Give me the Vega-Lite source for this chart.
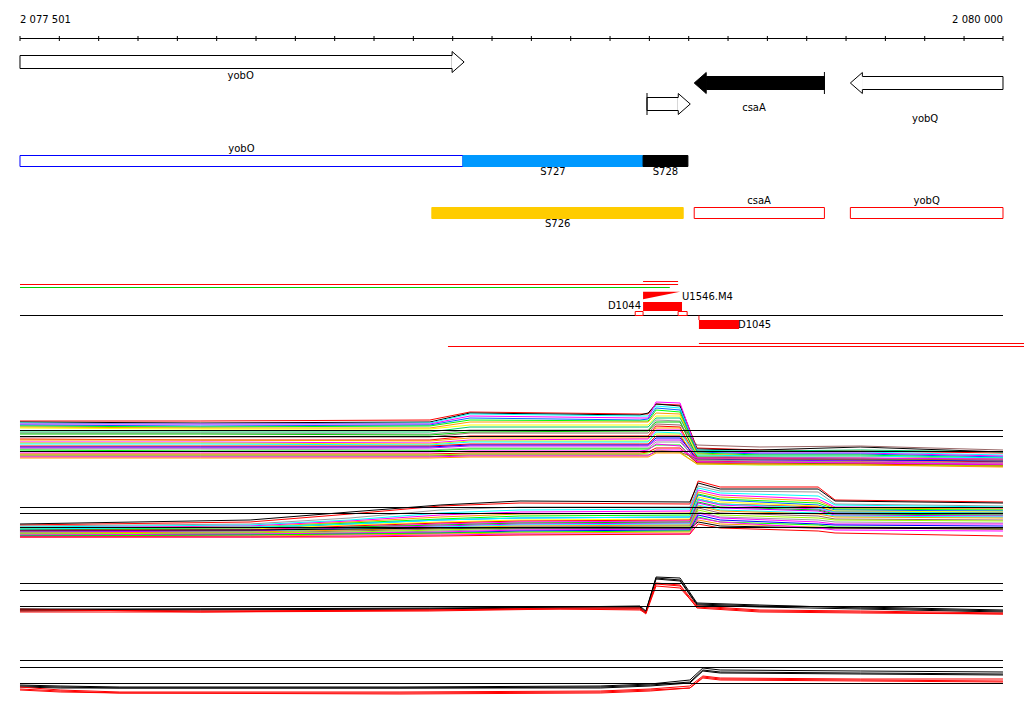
{
"$schema":"https://vega.github.io/schema/vega-lite/v6.json",
"width":1024,"height":714,"padding":0,"autosize":{"type":"none"},"background":"white",
"config":{"view":{"stroke":null},"text":{"font":"DejaVu Sans","fontSize":10,"color":"#000000"}},
"encoding":{"x":{"field":"x","type":"quantitative","scale":{"domain":[2077450.16,2080053.4],"nice":false,"zero":false},"axis":null}},
"resolve":{"scale":{"y":"independent","color":"independent","fill":"independent","stroke":"independent"}},
"datasets":{
"ticks":[{"lane":"ruler","x":2077501},{"lane":"ruler","x":2077601},{"lane":"ruler","x":2077701},{"lane":"ruler","x":2077801},{"lane":"ruler","x":2077901},{"lane":"ruler","x":2078001},{"lane":"ruler","x":2078101},{"lane":"ruler","x":2078201},{"lane":"ruler","x":2078301},{"lane":"ruler","x":2078401},{"lane":"ruler","x":2078501},{"lane":"ruler","x":2078601},{"lane":"ruler","x":2078701},{"lane":"ruler","x":2078801},{"lane":"ruler","x":2078901},{"lane":"ruler","x":2079001},{"lane":"ruler","x":2079101},{"lane":"ruler","x":2079201},{"lane":"ruler","x":2079301},{"lane":"ruler","x":2079401},{"lane":"ruler","x":2079501},{"lane":"ruler","x":2079601},{"lane":"ruler","x":2079701},{"lane":"ruler","x":2079801},{"lane":"ruler","x":2079901},{"lane":"ruler","x":2080000}],
"genes":[
{"lane":"r1","gene":"yobO","x":2077501,"x2":2078630,"strand":"+","focus":"no","lx":2078062},
{"lane":"r2","gene":"csaA","x":2079215,"x2":2079546,"strand":"-","focus":"yes","lx":2079367},
{"lane":"r2","gene":"yobQ","x":2079612,"x2":2080000,"strand":"-","focus":"no","lx":2079802},
{"lane":"r3","gene":"","x":2079095,"x2":2079205,"strand":"+","focus":"no","lx":2079150}],
"segs":[
{"lane":"s1","name":"yobO","type":"orfA","x":2077501,"x2":2078627,"lx":2078064},
{"lane":"s1","name":"S727","type":"S727","x":2078627,"x2":2079085,"lx":2078856},
{"lane":"s1","name":"S728","type":"S728","x":2079085,"x2":2079199,"lx":2079142},
{"lane":"s2","name":"S726","type":"S726","x":2078548,"x2":2079187,"lx":2078868},
{"lane":"s2","name":"csaA","type":"orfB","x":2079215,"x2":2079546,"lx":2079380},
{"lane":"s2","name":"yobQ","type":"orfB","x":2079612,"x2":2080000,"lx":2079806}],
"p1":[
{"s":"c01","x":2077501,"v":5.9},{"s":"c01","x":2077959,"v":5.9},{"s":"c01","x":2078543,"v":6.0},{"s":"c01","x":2078645,"v":6.8},{"s":"c01","x":2079077,"v":6.6},{"s":"c01","x":2079098,"v":6.6},{"s":"c01","x":2079118,"v":7.6},{"s":"c01","x":2079179,"v":7.5},{"s":"c01","x":2079222,"v":3.2},{"s":"c01","x":2079382,"v":3.0},{"s":"c01","x":2079637,"v":2.9},{"s":"c01","x":2080000,"v":2.7},
{"s":"c02","x":2077501,"v":5.8},{"s":"c02","x":2077959,"v":5.7},{"s":"c02","x":2078543,"v":5.8},{"s":"c02","x":2078645,"v":6.7},{"s":"c02","x":2079077,"v":6.5},{"s":"c02","x":2079098,"v":6.7},{"s":"c02","x":2079118,"v":7.6},{"s":"c02","x":2079179,"v":7.4},{"s":"c02","x":2079222,"v":3.1},{"s":"c02","x":2079382,"v":3.0},{"s":"c02","x":2079637,"v":3.3},{"s":"c02","x":2080000,"v":2.8},
{"s":"c03","x":2077501,"v":5.7},{"s":"c03","x":2077959,"v":5.6},{"s":"c03","x":2078543,"v":5.7},{"s":"c03","x":2078645,"v":6.6},{"s":"c03","x":2079077,"v":6.4},{"s":"c03","x":2079098,"v":6.4},{"s":"c03","x":2079118,"v":7.4},{"s":"c03","x":2079179,"v":7.2},{"s":"c03","x":2079222,"v":3.0},{"s":"c03","x":2079382,"v":2.8},{"s":"c03","x":2079637,"v":2.8},{"s":"c03","x":2080000,"v":2.5},
{"s":"c04","x":2077501,"v":5.6},{"s":"c04","x":2077959,"v":5.6},{"s":"c04","x":2078543,"v":5.6},{"s":"c04","x":2078645,"v":6.4},{"s":"c04","x":2079077,"v":6.2},{"s":"c04","x":2079098,"v":6.2},{"s":"c04","x":2079118,"v":7.8},{"s":"c04","x":2079179,"v":7.7},{"s":"c04","x":2079222,"v":2.9},{"s":"c04","x":2079382,"v":2.7},{"s":"c04","x":2079637,"v":2.7},{"s":"c04","x":2080000,"v":2.4},
{"s":"c05","x":2077501,"v":5.5},{"s":"c05","x":2077959,"v":5.4},{"s":"c05","x":2078543,"v":5.5},{"s":"c05","x":2078645,"v":6.2},{"s":"c05","x":2079077,"v":6.0},{"s":"c05","x":2079098,"v":6.1},{"s":"c05","x":2079118,"v":7.2},{"s":"c05","x":2079179,"v":7.0},{"s":"c05","x":2079222,"v":2.8},{"s":"c05","x":2079382,"v":2.6},{"s":"c05","x":2079637,"v":2.6},{"s":"c05","x":2080000,"v":2.3},
{"s":"c06","x":2077501,"v":5.4},{"s":"c06","x":2077959,"v":5.3},{"s":"c06","x":2078543,"v":5.4},{"s":"c06","x":2078645,"v":6.0},{"s":"c06","x":2079077,"v":5.9},{"s":"c06","x":2079098,"v":5.9},{"s":"c06","x":2079118,"v":7.0},{"s":"c06","x":2079179,"v":6.8},{"s":"c06","x":2079222,"v":2.7},{"s":"c06","x":2079382,"v":2.5},{"s":"c06","x":2079637,"v":2.5},{"s":"c06","x":2080000,"v":2.2},
{"s":"c07","x":2077501,"v":5.3},{"s":"c07","x":2077959,"v":5.2},{"s":"c07","x":2078543,"v":5.2},{"s":"c07","x":2078645,"v":5.8},{"s":"c07","x":2079077,"v":5.8},{"s":"c07","x":2079098,"v":5.8},{"s":"c07","x":2079118,"v":6.7},{"s":"c07","x":2079179,"v":6.6},{"s":"c07","x":2079222,"v":2.6},{"s":"c07","x":2079382,"v":2.4},{"s":"c07","x":2079637,"v":2.4},{"s":"c07","x":2080000,"v":2.1},
{"s":"c08","x":2077501,"v":5.2},{"s":"c08","x":2077959,"v":5.1},{"s":"c08","x":2078543,"v":5.1},{"s":"c08","x":2078645,"v":5.5},{"s":"c08","x":2079077,"v":5.5},{"s":"c08","x":2079098,"v":5.5},{"s":"c08","x":2079118,"v":6.4},{"s":"c08","x":2079179,"v":6.4},{"s":"c08","x":2079222,"v":2.5},{"s":"c08","x":2079382,"v":2.3},{"s":"c08","x":2079637,"v":2.2},{"s":"c08","x":2080000,"v":2.0},
{"s":"c09","x":2077501,"v":4.8},{"s":"c09","x":2077959,"v":4.8},{"s":"c09","x":2078543,"v":4.8},{"s":"c09","x":2078645,"v":5.3},{"s":"c09","x":2079077,"v":5.3},{"s":"c09","x":2079098,"v":5.3},{"s":"c09","x":2079118,"v":6.2},{"s":"c09","x":2079179,"v":6.2},{"s":"c09","x":2079222,"v":2.9},{"s":"c09","x":2079382,"v":2.9},{"s":"c09","x":2079637,"v":3.0},{"s":"c09","x":2080000,"v":2.8},
{"s":"c10","x":2077501,"v":4.7},{"s":"c10","x":2077959,"v":4.7},{"s":"c10","x":2078543,"v":4.6},{"s":"c10","x":2078645,"v":5.0},{"s":"c10","x":2079077,"v":5.0},{"s":"c10","x":2079098,"v":5.0},{"s":"c10","x":2079118,"v":6.0},{"s":"c10","x":2079179,"v":5.9},{"s":"c10","x":2079222,"v":2.4},{"s":"c10","x":2079382,"v":2.3},{"s":"c10","x":2079637,"v":2.2},{"s":"c10","x":2080000,"v":2.0},
{"s":"c11","x":2077501,"v":4.6},{"s":"c11","x":2077959,"v":4.6},{"s":"c11","x":2078543,"v":4.5},{"s":"c11","x":2078645,"v":4.8},{"s":"c11","x":2079077,"v":4.9},{"s":"c11","x":2079098,"v":4.9},{"s":"c11","x":2079118,"v":5.8},{"s":"c11","x":2079179,"v":5.8},{"s":"c11","x":2079222,"v":2.3},{"s":"c11","x":2079382,"v":2.2},{"s":"c11","x":2079637,"v":2.1},{"s":"c11","x":2080000,"v":1.8},
{"s":"c12","x":2077501,"v":4.3},{"s":"c12","x":2077959,"v":4.3},{"s":"c12","x":2078543,"v":4.3},{"s":"c12","x":2078645,"v":4.7},{"s":"c12","x":2079077,"v":4.7},{"s":"c12","x":2079098,"v":4.7},{"s":"c12","x":2079118,"v":5.6},{"s":"c12","x":2079179,"v":5.5},{"s":"c12","x":2079222,"v":3.5},{"s":"c12","x":2079382,"v":3.3},{"s":"c12","x":2079637,"v":3.4},{"s":"c12","x":2080000,"v":3.0},
{"s":"c13","x":2077501,"v":4.1},{"s":"c13","x":2077959,"v":4.0},{"s":"c13","x":2078543,"v":4.0},{"s":"c13","x":2078645,"v":4.4},{"s":"c13","x":2079077,"v":4.4},{"s":"c13","x":2079098,"v":4.4},{"s":"c13","x":2079118,"v":5.4},{"s":"c13","x":2079179,"v":5.3},{"s":"c13","x":2079222,"v":2.2},{"s":"c13","x":2079382,"v":2.2},{"s":"c13","x":2079637,"v":2.0},{"s":"c13","x":2080000,"v":1.8},
{"s":"c14","x":2077501,"v":4.0},{"s":"c14","x":2077959,"v":4.0},{"s":"c14","x":2078543,"v":3.9},{"s":"c14","x":2078645,"v":4.2},{"s":"c14","x":2079077,"v":4.2},{"s":"c14","x":2079098,"v":4.2},{"s":"c14","x":2079118,"v":5.2},{"s":"c14","x":2079179,"v":5.2},{"s":"c14","x":2079222,"v":2.1},{"s":"c14","x":2079382,"v":2.1},{"s":"c14","x":2079637,"v":2.0},{"s":"c14","x":2080000,"v":1.7},
{"s":"c15","x":2077501,"v":3.8},{"s":"c15","x":2077959,"v":3.8},{"s":"c15","x":2078543,"v":3.7},{"s":"c15","x":2078645,"v":4.0},{"s":"c15","x":2079077,"v":4.1},{"s":"c15","x":2079098,"v":4.1},{"s":"c15","x":2079118,"v":5.0},{"s":"c15","x":2079179,"v":5.0},{"s":"c15","x":2079222,"v":2.0},{"s":"c15","x":2079382,"v":2.0},{"s":"c15","x":2079637,"v":1.9},{"s":"c15","x":2080000,"v":1.7},
{"s":"c16","x":2077501,"v":3.7},{"s":"c16","x":2077959,"v":3.7},{"s":"c16","x":2078543,"v":3.6},{"s":"c16","x":2078645,"v":3.9},{"s":"c16","x":2079077,"v":3.9},{"s":"c16","x":2079098,"v":3.9},{"s":"c16","x":2079118,"v":4.6},{"s":"c16","x":2079179,"v":4.6},{"s":"c16","x":2079222,"v":1.9},{"s":"c16","x":2079382,"v":1.9},{"s":"c16","x":2079637,"v":1.8},{"s":"c16","x":2080000,"v":1.6},
{"s":"c17","x":2077501,"v":3.6},{"s":"c17","x":2077959,"v":3.6},{"s":"c17","x":2078543,"v":3.5},{"s":"c17","x":2078645,"v":3.8},{"s":"c17","x":2079077,"v":3.8},{"s":"c17","x":2079098,"v":3.8},{"s":"c17","x":2079118,"v":4.8},{"s":"c17","x":2079179,"v":4.7},{"s":"c17","x":2079222,"v":2.5},{"s":"c17","x":2079382,"v":2.4},{"s":"c17","x":2079637,"v":2.4},{"s":"c17","x":2080000,"v":2.2},
{"s":"c18","x":2077501,"v":3.4},{"s":"c18","x":2077959,"v":3.4},{"s":"c18","x":2078543,"v":3.4},{"s":"c18","x":2078645,"v":3.6},{"s":"c18","x":2079077,"v":3.6},{"s":"c18","x":2079098,"v":3.6},{"s":"c18","x":2079118,"v":4.4},{"s":"c18","x":2079179,"v":4.4},{"s":"c18","x":2079222,"v":1.9},{"s":"c18","x":2079382,"v":1.8},{"s":"c18","x":2079637,"v":1.8},{"s":"c18","x":2080000,"v":1.5},
{"s":"c19","x":2077501,"v":3.3},{"s":"c19","x":2077959,"v":3.3},{"s":"c19","x":2078543,"v":3.3},{"s":"c19","x":2078645,"v":3.5},{"s":"c19","x":2079077,"v":3.5},{"s":"c19","x":2079098,"v":3.5},{"s":"c19","x":2079118,"v":4.2},{"s":"c19","x":2079179,"v":4.2},{"s":"c19","x":2079222,"v":2.1},{"s":"c19","x":2079382,"v":2.0},{"s":"c19","x":2079637,"v":2.0},{"s":"c19","x":2080000,"v":1.9},
{"s":"c20","x":2077501,"v":3.2},{"s":"c20","x":2077959,"v":3.2},{"s":"c20","x":2078543,"v":3.2},{"s":"c20","x":2078645,"v":3.4},{"s":"c20","x":2079077,"v":3.4},{"s":"c20","x":2079098,"v":3.4},{"s":"c20","x":2079118,"v":4.0},{"s":"c20","x":2079179,"v":4.0},{"s":"c20","x":2079222,"v":1.8},{"s":"c20","x":2079382,"v":1.7},{"s":"c20","x":2079637,"v":1.7},{"s":"c20","x":2080000,"v":1.5},
{"s":"c21","x":2077501,"v":3.1},{"s":"c21","x":2077959,"v":3.1},{"s":"c21","x":2078543,"v":3.0},{"s":"c21","x":2078645,"v":3.2},{"s":"c21","x":2079077,"v":3.2},{"s":"c21","x":2079098,"v":3.2},{"s":"c21","x":2079118,"v":3.8},{"s":"c21","x":2079179,"v":3.8},{"s":"c21","x":2079222,"v":2.0},{"s":"c21","x":2079382,"v":1.9},{"s":"c21","x":2079637,"v":1.8},{"s":"c21","x":2080000,"v":1.7},
{"s":"c22","x":2077501,"v":3.0},{"s":"c22","x":2077959,"v":2.9},{"s":"c22","x":2078543,"v":2.9},{"s":"c22","x":2078645,"v":3.1},{"s":"c22","x":2079077,"v":3.1},{"s":"c22","x":2079098,"v":3.1},{"s":"c22","x":2079118,"v":3.5},{"s":"c22","x":2079179,"v":3.5},{"s":"c22","x":2079222,"v":1.7},{"s":"c22","x":2079382,"v":1.7},{"s":"c22","x":2079637,"v":1.6},{"s":"c22","x":2080000,"v":1.4},
{"s":"c23","x":2077501,"v":2.8},{"s":"c23","x":2077959,"v":2.8},{"s":"c23","x":2078543,"v":2.8},{"s":"c23","x":2078645,"v":2.9},{"s":"c23","x":2079077,"v":2.9},{"s":"c23","x":2079098,"v":3.0},{"s":"c23","x":2079118,"v":3.6},{"s":"c23","x":2079179,"v":3.4},{"s":"c23","x":2079222,"v":1.8},{"s":"c23","x":2079382,"v":1.8},{"s":"c23","x":2079637,"v":1.7},{"s":"c23","x":2080000,"v":1.6},
{"s":"c24","x":2077501,"v":2.6},{"s":"c24","x":2077959,"v":2.6},{"s":"c24","x":2078543,"v":2.6},{"s":"c24","x":2078645,"v":2.7},{"s":"c24","x":2079077,"v":2.7},{"s":"c24","x":2079098,"v":2.8},{"s":"c24","x":2079118,"v":3.2},{"s":"c24","x":2079179,"v":3.2},{"s":"c24","x":2079222,"v":1.7},{"s":"c24","x":2079382,"v":1.6},{"s":"c24","x":2079637,"v":1.6},{"s":"c24","x":2080000,"v":1.4},
{"s":"c25","x":2077501,"v":2.5},{"s":"c25","x":2077959,"v":2.5},{"s":"c25","x":2078543,"v":2.5},{"s":"c25","x":2078645,"v":2.6},{"s":"c25","x":2079077,"v":2.6},{"s":"c25","x":2079098,"v":2.7},{"s":"c25","x":2079118,"v":3.0},{"s":"c25","x":2079179,"v":2.8},{"s":"c25","x":2079222,"v":1.6},{"s":"c25","x":2079382,"v":1.5},{"s":"c25","x":2079637,"v":1.5},{"s":"c25","x":2080000,"v":1.4},
{"s":"c26","x":2077501,"v":2.4},{"s":"c26","x":2077959,"v":2.4},{"s":"c26","x":2078543,"v":2.4},{"s":"c26","x":2078645,"v":2.5},{"s":"c26","x":2079077,"v":2.5},{"s":"c26","x":2079098,"v":2.5},{"s":"c26","x":2079118,"v":2.8},{"s":"c26","x":2079179,"v":2.8},{"s":"c26","x":2079222,"v":2.1},{"s":"c26","x":2079382,"v":2.1},{"s":"c26","x":2079637,"v":2.1},{"s":"c26","x":2080000,"v":2.0},
{"s":"c27","x":2077501,"v":2.3},{"s":"c27","x":2077959,"v":2.3},{"s":"c27","x":2078543,"v":2.3},{"s":"c27","x":2078645,"v":2.4},{"s":"c27","x":2079077,"v":2.4},{"s":"c27","x":2079098,"v":2.4},{"s":"c27","x":2079118,"v":3.0},{"s":"c27","x":2079179,"v":3.0},{"s":"c27","x":2079222,"v":2.2},{"s":"c27","x":2079382,"v":2.2},{"s":"c27","x":2079637,"v":2.2},{"s":"c27","x":2080000,"v":2.1},
{"s":"c28","x":2077501,"v":2.2},{"s":"c28","x":2077959,"v":2.2},{"s":"c28","x":2078543,"v":2.2},{"s":"c28","x":2078645,"v":2.3},{"s":"c28","x":2079077,"v":2.3},{"s":"c28","x":2079098,"v":2.3},{"s":"c28","x":2079118,"v":2.7},{"s":"c28","x":2079179,"v":2.7},{"s":"c28","x":2079222,"v":1.6},{"s":"c28","x":2079382,"v":1.6},{"s":"c28","x":2079637,"v":1.5},{"s":"c28","x":2080000,"v":1.3}],
"p2":[
{"s":"c01","x":2077501,"v":3.5},{"s":"c01","x":2078086,"v":3.8},{"s":"c01","x":2078340,"v":4.6},{"s":"c01","x":2078569,"v":5.4},{"s":"c01","x":2078772,"v":5.7},{"s":"c01","x":2079204,"v":5.6},{"s":"c01","x":2079225,"v":7.9},{"s":"c01","x":2079281,"v":7.3},{"s":"c01","x":2079530,"v":7.3},{"s":"c01","x":2079573,"v":6.0},{"s":"c01","x":2080000,"v":5.8},
{"s":"c02","x":2077501,"v":3.6},{"s":"c02","x":2078086,"v":4.0},{"s":"c02","x":2078340,"v":4.8},{"s":"c02","x":2078569,"v":5.5},{"s":"c02","x":2078772,"v":5.9},{"s":"c02","x":2079204,"v":5.8},{"s":"c02","x":2079225,"v":7.7},{"s":"c02","x":2079281,"v":7.1},{"s":"c02","x":2079530,"v":7.1},{"s":"c02","x":2079573,"v":5.9},{"s":"c02","x":2080000,"v":5.7},
{"s":"c03","x":2077501,"v":3.4},{"s":"c03","x":2078086,"v":3.6},{"s":"c03","x":2078340,"v":4.2},{"s":"c03","x":2078569,"v":5.0},{"s":"c03","x":2078772,"v":5.3},{"s":"c03","x":2079204,"v":5.3},{"s":"c03","x":2079225,"v":7.4},{"s":"c03","x":2079281,"v":6.9},{"s":"c03","x":2079530,"v":6.8},{"s":"c03","x":2079573,"v":5.6},{"s":"c03","x":2080000,"v":5.4},
{"s":"c04","x":2077501,"v":3.3},{"s":"c04","x":2078086,"v":3.5},{"s":"c04","x":2078340,"v":4.0},{"s":"c04","x":2078569,"v":4.7},{"s":"c04","x":2078772,"v":5.0},{"s":"c04","x":2079204,"v":5.1},{"s":"c04","x":2079225,"v":7.2},{"s":"c04","x":2079281,"v":6.7},{"s":"c04","x":2079530,"v":6.4},{"s":"c04","x":2079573,"v":5.5},{"s":"c04","x":2080000,"v":5.3},
{"s":"c05","x":2077501,"v":3.2},{"s":"c05","x":2078086,"v":3.4},{"s":"c05","x":2078340,"v":3.9},{"s":"c05","x":2078569,"v":4.5},{"s":"c05","x":2078772,"v":4.8},{"s":"c05","x":2079204,"v":4.9},{"s":"c05","x":2079225,"v":7.0},{"s":"c05","x":2079281,"v":6.5},{"s":"c05","x":2079530,"v":6.1},{"s":"c05","x":2079573,"v":5.3},{"s":"c05","x":2080000,"v":5.2},
{"s":"c06","x":2077501,"v":3.2},{"s":"c06","x":2078086,"v":3.3},{"s":"c06","x":2078340,"v":3.8},{"s":"c06","x":2078569,"v":4.3},{"s":"c06","x":2078772,"v":4.6},{"s":"c06","x":2079204,"v":4.7},{"s":"c06","x":2079225,"v":6.8},{"s":"c06","x":2079281,"v":6.3},{"s":"c06","x":2079530,"v":5.9},{"s":"c06","x":2079573,"v":5.2},{"s":"c06","x":2080000,"v":5.1},
{"s":"c07","x":2077501,"v":3.1},{"s":"c07","x":2078086,"v":3.2},{"s":"c07","x":2078340,"v":3.7},{"s":"c07","x":2078569,"v":4.1},{"s":"c07","x":2078772,"v":4.4},{"s":"c07","x":2079204,"v":4.5},{"s":"c07","x":2079225,"v":6.6},{"s":"c07","x":2079281,"v":6.1},{"s":"c07","x":2079530,"v":5.7},{"s":"c07","x":2079573,"v":5.1},{"s":"c07","x":2080000,"v":5.0},
{"s":"c08","x":2077501,"v":3.0},{"s":"c08","x":2078086,"v":3.1},{"s":"c08","x":2078340,"v":3.6},{"s":"c08","x":2078569,"v":4.0},{"s":"c08","x":2078772,"v":4.2},{"s":"c08","x":2079204,"v":4.3},{"s":"c08","x":2079225,"v":6.5},{"s":"c08","x":2079281,"v":6.0},{"s":"c08","x":2079530,"v":5.5},{"s":"c08","x":2079573,"v":5.0},{"s":"c08","x":2080000,"v":4.9},
{"s":"c09","x":2077501,"v":3.0},{"s":"c09","x":2078086,"v":3.1},{"s":"c09","x":2078340,"v":3.5},{"s":"c09","x":2078569,"v":3.8},{"s":"c09","x":2078772,"v":4.0},{"s":"c09","x":2079204,"v":4.1},{"s":"c09","x":2079225,"v":6.3},{"s":"c09","x":2079281,"v":5.8},{"s":"c09","x":2079530,"v":5.4},{"s":"c09","x":2079573,"v":4.9},{"s":"c09","x":2080000,"v":4.8},
{"s":"c10","x":2077501,"v":2.9},{"s":"c10","x":2078086,"v":3.0},{"s":"c10","x":2078340,"v":3.4},{"s":"c10","x":2078569,"v":3.7},{"s":"c10","x":2078772,"v":3.9},{"s":"c10","x":2079204,"v":4.0},{"s":"c10","x":2079225,"v":6.1},{"s":"c10","x":2079281,"v":5.6},{"s":"c10","x":2079530,"v":5.3},{"s":"c10","x":2079573,"v":4.8},{"s":"c10","x":2080000,"v":4.7},
{"s":"c11","x":2077501,"v":2.9},{"s":"c11","x":2078086,"v":3.0},{"s":"c11","x":2078340,"v":3.3},{"s":"c11","x":2078569,"v":3.6},{"s":"c11","x":2078772,"v":3.8},{"s":"c11","x":2079204,"v":3.9},{"s":"c11","x":2079225,"v":6.0},{"s":"c11","x":2079281,"v":5.5},{"s":"c11","x":2079530,"v":5.1},{"s":"c11","x":2079573,"v":4.7},{"s":"c11","x":2080000,"v":4.6},
{"s":"c12","x":2077501,"v":2.8},{"s":"c12","x":2078086,"v":2.9},{"s":"c12","x":2078340,"v":3.3},{"s":"c12","x":2078569,"v":3.5},{"s":"c12","x":2078772,"v":3.7},{"s":"c12","x":2079204,"v":3.8},{"s":"c12","x":2079225,"v":5.8},{"s":"c12","x":2079281,"v":5.3},{"s":"c12","x":2079530,"v":5.0},{"s":"c12","x":2079573,"v":4.6},{"s":"c12","x":2080000,"v":4.5},
{"s":"c13","x":2077501,"v":2.8},{"s":"c13","x":2078086,"v":2.9},{"s":"c13","x":2078340,"v":3.2},{"s":"c13","x":2078569,"v":3.4},{"s":"c13","x":2078772,"v":3.6},{"s":"c13","x":2079204,"v":3.7},{"s":"c13","x":2079225,"v":5.7},{"s":"c13","x":2079281,"v":5.2},{"s":"c13","x":2079530,"v":4.9},{"s":"c13","x":2079573,"v":4.5},{"s":"c13","x":2080000,"v":4.4},
{"s":"c14","x":2077501,"v":2.7},{"s":"c14","x":2078086,"v":2.8},{"s":"c14","x":2078340,"v":3.1},{"s":"c14","x":2078569,"v":3.3},{"s":"c14","x":2078772,"v":3.5},{"s":"c14","x":2079204,"v":3.6},{"s":"c14","x":2079225,"v":5.5},{"s":"c14","x":2079281,"v":5.0},{"s":"c14","x":2079530,"v":4.7},{"s":"c14","x":2079573,"v":4.4},{"s":"c14","x":2080000,"v":4.3},
{"s":"c15","x":2077501,"v":2.7},{"s":"c15","x":2078086,"v":2.8},{"s":"c15","x":2078340,"v":3.0},{"s":"c15","x":2078569,"v":3.2},{"s":"c15","x":2078772,"v":3.4},{"s":"c15","x":2079204,"v":3.5},{"s":"c15","x":2079225,"v":5.4},{"s":"c15","x":2079281,"v":4.9},{"s":"c15","x":2079530,"v":4.6},{"s":"c15","x":2079573,"v":4.3},{"s":"c15","x":2080000,"v":4.2},
{"s":"c16","x":2077501,"v":2.6},{"s":"c16","x":2078086,"v":2.7},{"s":"c16","x":2078340,"v":2.9},{"s":"c16","x":2078569,"v":3.1},{"s":"c16","x":2078772,"v":3.3},{"s":"c16","x":2079204,"v":3.4},{"s":"c16","x":2079225,"v":5.2},{"s":"c16","x":2079281,"v":4.7},{"s":"c16","x":2079530,"v":4.4},{"s":"c16","x":2079573,"v":4.1},{"s":"c16","x":2080000,"v":4.0},
{"s":"c17","x":2077501,"v":2.6},{"s":"c17","x":2078086,"v":2.7},{"s":"c17","x":2078340,"v":2.8},{"s":"c17","x":2078569,"v":3.0},{"s":"c17","x":2078772,"v":3.2},{"s":"c17","x":2079204,"v":3.3},{"s":"c17","x":2079225,"v":5.0},{"s":"c17","x":2079281,"v":4.5},{"s":"c17","x":2079530,"v":4.2},{"s":"c17","x":2079573,"v":4.0},{"s":"c17","x":2080000,"v":3.9},
{"s":"c18","x":2077501,"v":2.5},{"s":"c18","x":2078086,"v":2.6},{"s":"c18","x":2078340,"v":2.7},{"s":"c18","x":2078569,"v":2.9},{"s":"c18","x":2078772,"v":3.1},{"s":"c18","x":2079204,"v":3.2},{"s":"c18","x":2079225,"v":4.8},{"s":"c18","x":2079281,"v":4.3},{"s":"c18","x":2079530,"v":4.0},{"s":"c18","x":2079573,"v":3.8},{"s":"c18","x":2080000,"v":3.7},
{"s":"c19","x":2077501,"v":2.5},{"s":"c19","x":2078086,"v":2.6},{"s":"c19","x":2078340,"v":2.7},{"s":"c19","x":2078569,"v":2.8},{"s":"c19","x":2078772,"v":3.0},{"s":"c19","x":2079204,"v":3.1},{"s":"c19","x":2079225,"v":4.7},{"s":"c19","x":2079281,"v":4.2},{"s":"c19","x":2079530,"v":3.8},{"s":"c19","x":2079573,"v":3.6},{"s":"c19","x":2080000,"v":3.6},
{"s":"c20","x":2077501,"v":2.4},{"s":"c20","x":2078086,"v":2.5},{"s":"c20","x":2078340,"v":2.6},{"s":"c20","x":2078569,"v":2.7},{"s":"c20","x":2078772,"v":2.9},{"s":"c20","x":2079204,"v":3.0},{"s":"c20","x":2079225,"v":4.5},{"s":"c20","x":2079281,"v":4.0},{"s":"c20","x":2079530,"v":3.6},{"s":"c20","x":2079573,"v":3.5},{"s":"c20","x":2080000,"v":3.4},
{"s":"c21","x":2077501,"v":2.4},{"s":"c21","x":2078086,"v":2.5},{"s":"c21","x":2078340,"v":2.6},{"s":"c21","x":2078569,"v":2.7},{"s":"c21","x":2078772,"v":2.8},{"s":"c21","x":2079204,"v":2.9},{"s":"c21","x":2079225,"v":4.3},{"s":"c21","x":2079281,"v":3.8},{"s":"c21","x":2079530,"v":3.5},{"s":"c21","x":2079573,"v":3.3},{"s":"c21","x":2080000,"v":3.2},
{"s":"c22","x":2077501,"v":2.3},{"s":"c22","x":2078086,"v":2.4},{"s":"c22","x":2078340,"v":2.5},{"s":"c22","x":2078569,"v":2.6},{"s":"c22","x":2078772,"v":2.7},{"s":"c22","x":2079204,"v":2.8},{"s":"c22","x":2079225,"v":4.0},{"s":"c22","x":2079281,"v":3.6},{"s":"c22","x":2079530,"v":3.3},{"s":"c22","x":2079573,"v":3.2},{"s":"c22","x":2080000,"v":3.1},
{"s":"c23","x":2077501,"v":3.0},{"s":"c23","x":2078086,"v":3.0},{"s":"c23","x":2078340,"v":3.1},{"s":"c23","x":2078569,"v":3.2},{"s":"c23","x":2078772,"v":3.2},{"s":"c23","x":2079204,"v":3.2},{"s":"c23","x":2079225,"v":3.8},{"s":"c23","x":2079281,"v":3.4},{"s":"c23","x":2079530,"v":3.2},{"s":"c23","x":2079573,"v":3.2},{"s":"c23","x":2080000,"v":3.1},
{"s":"c24","x":2077501,"v":2.3},{"s":"c24","x":2078086,"v":2.3},{"s":"c24","x":2078340,"v":2.4},{"s":"c24","x":2078569,"v":2.5},{"s":"c24","x":2078772,"v":2.6},{"s":"c24","x":2079204,"v":2.6},{"s":"c24","x":2079225,"v":4.2},{"s":"c24","x":2079281,"v":3.8},{"s":"c24","x":2079530,"v":3.2},{"s":"c24","x":2079573,"v":3.0},{"s":"c24","x":2080000,"v":2.9},
{"s":"c25","x":2077501,"v":2.3},{"s":"c25","x":2078086,"v":2.3},{"s":"c25","x":2078340,"v":2.3},{"s":"c25","x":2078569,"v":2.4},{"s":"c25","x":2078772,"v":2.5},{"s":"c25","x":2079204,"v":2.6},{"s":"c25","x":2079225,"v":3.6},{"s":"c25","x":2079281,"v":3.2},{"s":"c25","x":2079530,"v":2.9},{"s":"c25","x":2079573,"v":2.7},{"s":"c25","x":2080000,"v":2.4},
{"s":"c26","x":2077501,"v":3.1},{"s":"c26","x":2078086,"v":3.3},{"s":"c26","x":2078340,"v":3.6},{"s":"c26","x":2078569,"v":4.0},{"s":"c26","x":2078772,"v":4.2},{"s":"c26","x":2079204,"v":4.3},{"s":"c26","x":2079225,"v":6.1},{"s":"c26","x":2079281,"v":5.6},{"s":"c26","x":2079530,"v":5.2},{"s":"c26","x":2079573,"v":4.8},{"s":"c26","x":2080000,"v":4.7}],
"p3":[
{"s":"a","x":2077501,"v":3.0},{"s":"a","x":2077959,"v":3.1},{"s":"a","x":2078543,"v":3.1},{"s":"a","x":2078874,"v":3.3},{"s":"a","x":2079077,"v":3.3},{"s":"a","x":2079092,"v":2.8},{"s":"a","x":2079118,"v":6.3},{"s":"a","x":2079179,"v":6.2},{"s":"a","x":2079222,"v":3.7},{"s":"a","x":2079382,"v":3.5},{"s":"a","x":2079637,"v":3.2},{"s":"a","x":2080000,"v":2.9},
{"s":"b","x":2077501,"v":2.9},{"s":"b","x":2077959,"v":3.0},{"s":"b","x":2078543,"v":3.1},{"s":"b","x":2078874,"v":3.2},{"s":"b","x":2079077,"v":3.2},{"s":"b","x":2079092,"v":2.7},{"s":"b","x":2079118,"v":6.1},{"s":"b","x":2079179,"v":5.9},{"s":"b","x":2079222,"v":3.5},{"s":"b","x":2079382,"v":3.3},{"s":"b","x":2079637,"v":3.1},{"s":"b","x":2080000,"v":2.8},
{"s":"c","x":2077501,"v":3.1},{"s":"c","x":2077959,"v":2.8},{"s":"c","x":2078543,"v":3.0},{"s":"c","x":2078874,"v":3.2},{"s":"c","x":2079077,"v":3.2},{"s":"c","x":2079092,"v":2.8},{"s":"c","x":2079118,"v":5.7},{"s":"c","x":2079179,"v":5.5},{"s":"c","x":2079222,"v":3.4},{"s":"c","x":2079382,"v":3.0},{"s":"c","x":2079637,"v":2.9},{"s":"c","x":2080000,"v":2.7},
{"s":"d","x":2077501,"v":2.8},{"s":"d","x":2077959,"v":2.8},{"s":"d","x":2078543,"v":2.9},{"s":"d","x":2078874,"v":3.1},{"s":"d","x":2079077,"v":3.1},{"s":"d","x":2079092,"v":2.6},{"s":"d","x":2079118,"v":5.4},{"s":"d","x":2079179,"v":5.2},{"s":"d","x":2079222,"v":3.3},{"s":"d","x":2079382,"v":2.9},{"s":"d","x":2079637,"v":2.8},{"s":"d","x":2080000,"v":2.6},
{"s":"e","x":2077501,"v":3.0},{"s":"e","x":2077959,"v":2.9},{"s":"e","x":2078543,"v":3.0},{"s":"e","x":2078874,"v":3.1},{"s":"e","x":2079077,"v":3.0},{"s":"e","x":2079092,"v":2.7},{"s":"e","x":2079118,"v":5.6},{"s":"e","x":2079179,"v":5.4},{"s":"e","x":2079222,"v":3.2},{"s":"e","x":2079382,"v":2.8},{"s":"e","x":2079637,"v":2.7},{"s":"e","x":2080000,"v":2.6},
{"s":"f","x":2077501,"v":3.1},{"s":"f","x":2077959,"v":3.1},{"s":"f","x":2078543,"v":3.2},{"s":"f","x":2078874,"v":3.3},{"s":"f","x":2079077,"v":3.4},{"s":"f","x":2079092,"v":2.9},{"s":"f","x":2079118,"v":6.2},{"s":"f","x":2079179,"v":6.0},{"s":"f","x":2079222,"v":3.6},{"s":"f","x":2079382,"v":3.4},{"s":"f","x":2079637,"v":3.3},{"s":"f","x":2080000,"v":3.0}],
"p4":[
{"s":"a","x":2077501,"v":3.5},{"s":"a","x":2077603,"v":3.4},{"s":"a","x":2077755,"v":3.3},{"s":"a","x":2078467,"v":3.3},{"s":"a","x":2078976,"v":3.4},{"s":"a","x":2079103,"v":3.6},{"s":"a","x":2079204,"v":4.0},{"s":"a","x":2079237,"v":5.2},{"s":"a","x":2079281,"v":5.0},{"s":"a","x":2079637,"v":4.9},{"s":"a","x":2080000,"v":4.8},
{"s":"b","x":2077501,"v":3.4},{"s":"b","x":2077603,"v":3.3},{"s":"b","x":2077755,"v":3.2},{"s":"b","x":2078467,"v":3.2},{"s":"b","x":2078976,"v":3.3},{"s":"b","x":2079103,"v":3.5},{"s":"b","x":2079204,"v":3.8},{"s":"b","x":2079237,"v":5.0},{"s":"b","x":2079281,"v":4.8},{"s":"b","x":2079637,"v":4.7},{"s":"b","x":2080000,"v":4.6},
{"s":"c","x":2077501,"v":3.3},{"s":"c","x":2077603,"v":3.2},{"s":"c","x":2077755,"v":3.2},{"s":"c","x":2078467,"v":3.2},{"s":"c","x":2078976,"v":3.2},{"s":"c","x":2079103,"v":3.4},{"s":"c","x":2079204,"v":3.7},{"s":"c","x":2079237,"v":4.9},{"s":"c","x":2079281,"v":4.7},{"s":"c","x":2079637,"v":4.6},{"s":"c","x":2080000,"v":4.5},
{"s":"d","x":2077501,"v":3.3},{"s":"d","x":2077603,"v":3.0},{"s":"d","x":2077755,"v":2.8},{"s":"d","x":2078467,"v":2.8},{"s":"d","x":2078976,"v":2.9},{"s":"d","x":2079103,"v":3.1},{"s":"d","x":2079204,"v":3.4},{"s":"d","x":2079237,"v":4.4},{"s":"d","x":2079281,"v":4.2},{"s":"d","x":2079637,"v":4.1},{"s":"d","x":2080000,"v":4.1},
{"s":"e","x":2077501,"v":3.1},{"s":"e","x":2077603,"v":2.9},{"s":"e","x":2077755,"v":2.7},{"s":"e","x":2078467,"v":2.7},{"s":"e","x":2078976,"v":2.8},{"s":"e","x":2079103,"v":3.0},{"s":"e","x":2079204,"v":3.2},{"s":"e","x":2079237,"v":4.3},{"s":"e","x":2079281,"v":4.1},{"s":"e","x":2079637,"v":4.0},{"s":"e","x":2080000,"v":3.9},
{"s":"f","x":2077501,"v":3.0},{"s":"f","x":2077603,"v":2.8},{"s":"f","x":2077755,"v":2.7},{"s":"f","x":2078467,"v":2.6},{"s":"f","x":2078976,"v":2.7},{"s":"f","x":2079103,"v":2.9},{"s":"f","x":2079204,"v":3.2},{"s":"f","x":2079237,"v":4.2},{"s":"f","x":2079281,"v":4.0},{"s":"f","x":2079637,"v":3.9},{"s":"f","x":2080000,"v":3.8}]
},
"layer":[
{"layer":[
 {"data":{"values":[{"lane":"ruler","x":2077501,"x2":2080000}]},"mark":{"type":"rule","color":"#000000","strokeWidth":1},"encoding":{"x2":{"field":"x2"},"y":{"field":"lane","type":"nominal","scale":{"type":"point","domain":["ruler"],"range":[38.5,38.5],"padding":0},"axis":null}}},
 {"data":{"name":"ticks"},"mark":{"type":"tick","orient":"vertical","color":"#000000","size":5,"thickness":1,"opacity":1},"encoding":{"y":{"field":"lane","type":"nominal","scale":{"type":"point","domain":["ruler"],"range":[38.5,38.5],"padding":0},"axis":null}}},
 {"data":{"values":[{"lane":"ruler","x":2077501,"label":"2 077 501"}]},"mark":{"type":"text","align":"left","baseline":"middle","yOffset":-18.5},"encoding":{"y":{"field":"lane","type":"nominal","scale":{"type":"point","domain":["ruler"],"range":[38.5,38.5],"padding":0},"axis":null},"text":{"field":"label"}}},
 {"data":{"values":[{"lane":"ruler","x":2080000,"label":"2 080 000"}]},"mark":{"type":"text","align":"right","baseline":"middle","yOffset":-18.5},"encoding":{"y":{"field":"lane","type":"nominal","scale":{"type":"point","domain":["ruler"],"range":[38.5,38.5],"padding":0},"axis":null},"text":{"field":"label"}}}
]},
{"layer":[
 {"data":{"name":"genes"},"transform":[{"filter":"datum.strand == '+'"}],"mark":{"type":"bar","height":13,"x2Offset":-12,"stroke":"#000000","strokeWidth":1},"encoding":{"x2":{"field":"x2"},"y":{"field":"lane","type":"nominal","scale":{"type":"point","domain":["r1","r2","r3"],"range":[62,104],"padding":0},"axis":null},"fill":{"field":"focus","type":"nominal","scale":{"domain":["no","yes"],"range":["#ffffff","#000000"]},"legend":null}}},
 {"data":{"name":"genes"},"transform":[{"filter":"datum.strand == '-'"}],"mark":{"type":"bar","height":13,"xOffset":12,"stroke":"#000000","strokeWidth":1},"encoding":{"x2":{"field":"x2"},"y":{"field":"lane","type":"nominal","scale":{"type":"point","domain":["r1","r2","r3"],"range":[62,104],"padding":0},"axis":null},"fill":{"field":"focus","type":"nominal","scale":{"domain":["no","yes"],"range":["#ffffff","#000000"]},"legend":null}}},
 {"data":{"name":"genes"},"transform":[{"filter":"datum.strand == '+'"}],"mark":{"type":"point","shape":"M-1.2,-0.57L-1.143,-0.57L-1.143,-1L0,0L-1.143,1L-1.143,0.57L-1.2,0.57Z","size":441,"filled":true,"opacity":1,"strokeWidth":0},"encoding":{"x":{"field":"x2","type":"quantitative","scale":{"domain":[2077450.16,2080053.4],"nice":false,"zero":false},"axis":null},"y":{"field":"lane","type":"nominal","scale":{"type":"point","domain":["r1","r2","r3"],"range":[62,104],"padding":0},"axis":null},"fill":{"field":"focus","type":"nominal","scale":{"domain":["no","yes"],"range":["#ffffff","#000000"]},"legend":null}}},
 {"data":{"name":"genes"},"transform":[{"filter":"datum.strand == '-'"}],"mark":{"type":"point","shape":"M1.2,-0.57L1.143,-0.57L1.143,-1L0,0L1.143,1L1.143,0.57L1.2,0.57Z","size":441,"filled":true,"opacity":1,"strokeWidth":0},"encoding":{"y":{"field":"lane","type":"nominal","scale":{"type":"point","domain":["r1","r2","r3"],"range":[62,104],"padding":0},"axis":null},"fill":{"field":"focus","type":"nominal","scale":{"domain":["no","yes"],"range":["#ffffff","#000000"]},"legend":null}}},
 {"data":{"name":"genes"},"transform":[{"filter":"datum.strand == '+'"}],"mark":{"type":"point","shape":"M-1.143,-0.62L-1.143,-1L0,0L-1.143,1L-1.143,0.62","size":441,"filled":false,"opacity":1,"stroke":"#000000","strokeWidth":1},"encoding":{"x":{"field":"x2","type":"quantitative","scale":{"domain":[2077450.16,2080053.4],"nice":false,"zero":false},"axis":null},"y":{"field":"lane","type":"nominal","scale":{"type":"point","domain":["r1","r2","r3"],"range":[62,104],"padding":0},"axis":null}}},
 {"data":{"name":"genes"},"transform":[{"filter":"datum.strand == '-'"}],"mark":{"type":"point","shape":"M1.143,-0.62L1.143,-1L0,0L1.143,1L1.143,0.62","size":441,"filled":false,"opacity":1,"stroke":"#000000","strokeWidth":1},"encoding":{"y":{"field":"lane","type":"nominal","scale":{"type":"point","domain":["r1","r2","r3"],"range":[62,104],"padding":0},"axis":null}}},
 {"data":{"values":[{"lane":"r2","x":2079546},{"lane":"r3","x":2079095}]},"mark":{"type":"tick","orient":"vertical","color":"#000000","size":22,"thickness":1,"opacity":1},"encoding":{"y":{"field":"lane","type":"nominal","scale":{"type":"point","domain":["r1","r2","r3"],"range":[62,104],"padding":0},"axis":null}}},
 {"data":{"name":"genes"},"transform":[{"filter":"datum.gene == 'yobO'"}],"mark":{"type":"text","align":"center","baseline":"middle","yOffset":14.3},"encoding":{"x":{"field":"lx","type":"quantitative","scale":{"domain":[2077450.16,2080053.4],"nice":false,"zero":false},"axis":null},"y":{"field":"lane","type":"nominal","scale":{"type":"point","domain":["r1","r2","r3"],"range":[62,104],"padding":0},"axis":null},"text":{"field":"gene"}}},
 {"data":{"name":"genes"},"transform":[{"filter":"datum.gene == 'csaA'"}],"mark":{"type":"text","align":"center","baseline":"middle","yOffset":24.5},"encoding":{"x":{"field":"lx","type":"quantitative","scale":{"domain":[2077450.16,2080053.4],"nice":false,"zero":false},"axis":null},"y":{"field":"lane","type":"nominal","scale":{"type":"point","domain":["r1","r2","r3"],"range":[62,104],"padding":0},"axis":null},"text":{"field":"gene"}}},
 {"data":{"name":"genes"},"transform":[{"filter":"datum.gene == 'yobQ'"}],"mark":{"type":"text","align":"center","baseline":"middle","yOffset":36},"encoding":{"x":{"field":"lx","type":"quantitative","scale":{"domain":[2077450.16,2080053.4],"nice":false,"zero":false},"axis":null},"y":{"field":"lane","type":"nominal","scale":{"type":"point","domain":["r1","r2","r3"],"range":[62,104],"padding":0},"axis":null},"text":{"field":"gene"}}}
]},
{"layer":[
 {"data":{"name":"segs"},"mark":{"type":"bar","height":11,"strokeWidth":1},"encoding":{"x2":{"field":"x2"},"y":{"field":"lane","type":"nominal","scale":{"type":"point","domain":["s1","s2"],"range":[161,213],"padding":0},"axis":null},"fill":{"field":"type","type":"nominal","scale":{"domain":["orfA","S727","S728","S726","orfB"],"range":["#ffffff","#0099ff","#000000","#ffcc00","#ffffff"]},"legend":null},"stroke":{"field":"type","type":"nominal","scale":{"domain":["orfA","S727","S728","S726","orfB"],"range":["#0000ff","#0099ff","#000000","#ffcc00","#ff0000"]},"legend":null}}},
 {"data":{"name":"segs"},"transform":[{"filter":"datum.type == 'orfA' || datum.type == 'orfB'"}],"mark":{"type":"text","align":"center","baseline":"middle","yOffset":-12},"encoding":{"x":{"field":"lx","type":"quantitative","scale":{"domain":[2077450.16,2080053.4],"nice":false,"zero":false},"axis":null},"y":{"field":"lane","type":"nominal","scale":{"type":"point","domain":["s1","s2"],"range":[161,213],"padding":0},"axis":null},"text":{"field":"name"}}},
 {"data":{"name":"segs"},"transform":[{"filter":"datum.type != 'orfA' && datum.type != 'orfB'"}],"mark":{"type":"text","align":"center","baseline":"middle","yOffset":11},"encoding":{"x":{"field":"lx","type":"quantitative","scale":{"domain":[2077450.16,2080053.4],"nice":false,"zero":false},"axis":null},"y":{"field":"lane","type":"nominal","scale":{"type":"point","domain":["s1","s2"],"range":[161,213],"padding":0},"axis":null},"text":{"field":"name"}}}
]},
{"layer":[
 {"data":{"values":[{"lane":"tx","x":2077501,"x2":2079174}]},"mark":{"type":"rule","color":"#ff0000","strokeWidth":1},"encoding":{"x2":{"field":"x2"},"y":{"field":"lane","type":"nominal","scale":{"type":"point","domain":["tx","U1546","D1044","strand","D1045","sp","cov"],"range":[284.5,347.5],"padding":0},"axis":null}}},
 {"data":{"values":[{"lane":"tx","x":2077501,"x2":2079153}]},"mark":{"type":"rule","color":"#00cc00","strokeWidth":1,"yOffset":3},"encoding":{"x2":{"field":"x2"},"y":{"field":"lane","type":"nominal","scale":{"type":"point","domain":["tx","U1546","D1044","strand","D1045","sp","cov"],"range":[284.5,347.5],"padding":0},"axis":null}}},
 {"data":{"values":[{"lane":"tx","x":2079085,"x2":2079174}]},"mark":{"type":"rule","color":"#ff0000","strokeWidth":1,"yOffset":-3},"encoding":{"x2":{"field":"x2"},"y":{"field":"lane","type":"nominal","scale":{"type":"point","domain":["tx","U1546","D1044","strand","D1045","sp","cov"],"range":[284.5,347.5],"padding":0},"axis":null}}},
 {"data":{"values":[{"lane":"strand","x":2077501,"x2":2080000}]},"mark":{"type":"rule","color":"#000000","strokeWidth":1,"yOffset":-0.5},"encoding":{"x2":{"field":"x2"},"y":{"field":"lane","type":"nominal","scale":{"type":"point","domain":["tx","U1546","D1044","strand","D1045","sp","cov"],"range":[284.5,347.5],"padding":0},"axis":null}}},
 {"data":{"values":[{"lane":"cov","x":2079227,"x2":2080054}]},"mark":{"type":"rule","color":"#ff0000","strokeWidth":1,"yOffset":-4},"encoding":{"x2":{"field":"x2"},"y":{"field":"lane","type":"nominal","scale":{"type":"point","domain":["tx","U1546","D1044","strand","D1045","sp","cov"],"range":[284.5,347.5],"padding":0},"axis":null}}},
 {"data":{"values":[{"lane":"cov","x":2078589,"x2":2080054}]},"mark":{"type":"rule","color":"#ff0000","strokeWidth":1,"yOffset":-1},"encoding":{"x2":{"field":"x2"},"y":{"field":"lane","type":"nominal","scale":{"type":"point","domain":["tx","U1546","D1044","strand","D1045","sp","cov"],"range":[284.5,347.5],"padding":0},"axis":null}}},
 {"data":{"values":[{"lane":"U1546","x":2079085}]},"mark":{"type":"point","shape":"M0,-0.205L2,-0.205L0,0.205Z","size":1369,"filled":true,"fill":"#ff0000","opacity":1,"strokeWidth":0,"yOffset":0.5},"encoding":{"y":{"field":"lane","type":"nominal","scale":{"type":"point","domain":["tx","U1546","D1044","strand","D1045","sp","cov"],"range":[284.5,347.5],"padding":0},"axis":null}}},
 {"data":{"values":[{"lane":"D1044","x":2079085,"x2":2079184}]},"mark":{"type":"bar","height":9,"yOffset":1,"fill":"#ff0000"},"encoding":{"x2":{"field":"x2"},"y":{"field":"lane","type":"nominal","scale":{"type":"point","domain":["tx","U1546","D1044","strand","D1045","sp","cov"],"range":[284.5,347.5],"padding":0},"axis":null}}},
 {"data":{"values":[{"lane":"strand","x":2079065,"x2":2079085},{"lane":"strand","x":2079174,"x2":2079197}]},"mark":{"type":"bar","height":4,"yOffset":-2.5,"fill":"#ffffff","stroke":"#ff0000","strokeWidth":1},"encoding":{"x2":{"field":"x2"},"y":{"field":"lane","type":"nominal","scale":{"type":"point","domain":["tx","U1546","D1044","strand","D1045","sp","cov"],"range":[284.5,347.5],"padding":0},"axis":null}}},
 {"data":{"values":[{"lane":"D1045","x":2079227,"x2":2079329}]},"mark":{"type":"bar","height":9,"yOffset":-2,"fill":"#ff0000"},"encoding":{"x2":{"field":"x2"},"y":{"field":"lane","type":"nominal","scale":{"type":"point","domain":["tx","U1546","D1044","strand","D1045","sp","cov"],"range":[284.5,347.5],"padding":0},"axis":null}}},
 {"data":{"values":[{"lane":"D1045","x":2079227}]},"mark":{"type":"tick","orient":"vertical","color":"#ff0000","size":4.5,"thickness":1,"opacity":1,"yOffset":-8.75},"encoding":{"y":{"field":"lane","type":"nominal","scale":{"type":"point","domain":["tx","U1546","D1044","strand","D1045","sp","cov"],"range":[284.5,347.5],"padding":0},"axis":null}}},
 {"data":{"values":[{"lane":"D1044","x":2079085,"name":"D1044"}]},"mark":{"type":"text","align":"right","baseline":"middle","dx":-2},"encoding":{"y":{"field":"lane","type":"nominal","scale":{"type":"point","domain":["tx","U1546","D1044","strand","D1045","sp","cov"],"range":[284.5,347.5],"padding":0},"axis":null},"text":{"field":"name"}}},
 {"data":{"values":[{"lane":"U1546","x":2079179,"name":"U1546.M4"}]},"mark":{"type":"text","align":"left","baseline":"middle","dx":2,"yOffset":2},"encoding":{"y":{"field":"lane","type":"nominal","scale":{"type":"point","domain":["tx","U1546","D1044","strand","D1045","sp","cov"],"range":[284.5,347.5],"padding":0},"axis":null},"text":{"field":"name"}}},
 {"data":{"values":[{"lane":"D1045","x":2079329,"name":"D1045"}]},"mark":{"type":"text","align":"left","baseline":"middle","dx":-1,"yOffset":-2},"encoding":{"y":{"field":"lane","type":"nominal","scale":{"type":"point","domain":["tx","U1546","D1044","strand","D1045","sp","cov"],"range":[284.5,347.5],"padding":0},"axis":null},"text":{"field":"name"}}}
]},
{"layer":[
 {"data":{"name":"p1"},"mark":{"type":"line","strokeWidth":1},"encoding":{"y":{"field":"v","type":"quantitative","scale":{"domain":[0,8],"range":[480,400],"nice":false,"zero":false},"axis":null},"color":{"field":"s","type":"nominal","scale":{"domain":["c01","c02","c03","c04","c05","c06","c07","c08","c09","c10","c11","c12","c13","c14","c15","c16","c17","c18","c19","c20","c21","c22","c23","c24","c25","c26","c27","c28"],"range":["#ff0000","#000000","#00ffff","#ff00ff","#0066ff","#00ff00","#ff9900","#ffff00","#00cc66","#999999","#00cc00","#996666","#ff0000","#ff9900","#ff00ff","#ccff00","#00ffff","#ff0000","#0000ff","#cc00ff","#999999","#00ff00","#ff00ff","#ff0000","#99ff00","#996633","#ff00ff","#ff9900"]},"legend":null}}},
 {"data":{"values":[{"x":2077501,"x2":2080000,"v":4.95},{"x":2077501,"x2":2080000,"v":4.35},{"x":2077501,"x2":2080000,"v":2.85}]},"mark":{"type":"rule","color":"#000000","strokeWidth":1},"encoding":{"x2":{"field":"x2"},"y":{"field":"v","type":"quantitative","scale":{"domain":[0,8],"range":[480,400],"nice":false,"zero":false},"axis":null}}}
]},
{"layer":[
 {"data":{"name":"p2"},"mark":{"type":"line","strokeWidth":1},"encoding":{"y":{"field":"v","type":"quantitative","scale":{"domain":[0,9],"range":[560,470],"nice":false,"zero":false},"axis":null},"color":{"field":"s","type":"nominal","scale":{"domain":["c01","c02","c03","c04","c05","c06","c07","c08","c09","c10","c11","c12","c13","c14","c15","c16","c17","c18","c19","c20","c21","c22","c23","c24","c25","c26"],"range":["#ff0000","#000000","#999999","#00ffff","#ff00ff","#ff9900","#00ff00","#0066ff","#ffff00","#ff0000","#ff00ff","#00cc00","#cc00ff","#00ffff","#ff9900","#996666","#99ff00","#999999","#ff00ff","#0000ff","#00ff00","#ff9900","#000000","#ff00ff","#ff0000","#00ffff"]},"legend":null}}},
 {"data":{"values":[{"x":2077501,"x2":2080000,"v":5.25},{"x":2077501,"x2":2080000,"v":4.65},{"x":2077501,"x2":2080000,"v":3.25}]},"mark":{"type":"rule","color":"#000000","strokeWidth":1},"encoding":{"x2":{"field":"x2"},"y":{"field":"v","type":"quantitative","scale":{"domain":[0,9],"range":[560,470],"nice":false,"zero":false},"axis":null}}}
]},
{"layer":[
 {"data":{"name":"p3"},"mark":{"type":"line","strokeWidth":1},"encoding":{"y":{"field":"v","type":"quantitative","scale":{"domain":[0,8],"range":[640,560],"nice":false,"zero":false},"axis":null},"color":{"field":"s","type":"nominal","scale":{"domain":["a","b","c","d","e","f"],"range":["#000000","#000000","#ff0000","#ff0000","#ff0000","#000000"]},"legend":null}}},
 {"data":{"values":[{"x":2077501,"x2":2080000,"v":5.65},{"x":2077501,"x2":2080000,"v":4.95},{"x":2077501,"x2":2080000,"v":3.35}]},"mark":{"type":"rule","color":"#000000","strokeWidth":1},"encoding":{"x2":{"field":"x2"},"y":{"field":"v","type":"quantitative","scale":{"domain":[0,8],"range":[640,560],"nice":false,"zero":false},"axis":null}}}
]},
{"layer":[
 {"data":{"name":"p4"},"mark":{"type":"line","strokeWidth":1},"encoding":{"y":{"field":"v","type":"quantitative","scale":{"domain":[0,8],"range":[720,640],"nice":false,"zero":false},"axis":null},"color":{"field":"s","type":"nominal","scale":{"domain":["a","b","c","d","e","f"],"range":["#000000","#000000","#000000","#ff0000","#ff0000","#ff0000"]},"legend":null}}},
 {"data":{"values":[{"x":2077501,"x2":2080000,"v":5.95},{"x":2077501,"x2":2080000,"v":5.25},{"x":2077501,"x2":2080000,"v":3.65}]},"mark":{"type":"rule","color":"#000000","strokeWidth":1},"encoding":{"x2":{"field":"x2"},"y":{"field":"v","type":"quantitative","scale":{"domain":[0,8],"range":[720,640],"nice":false,"zero":false},"axis":null}}}
]}
]
}
